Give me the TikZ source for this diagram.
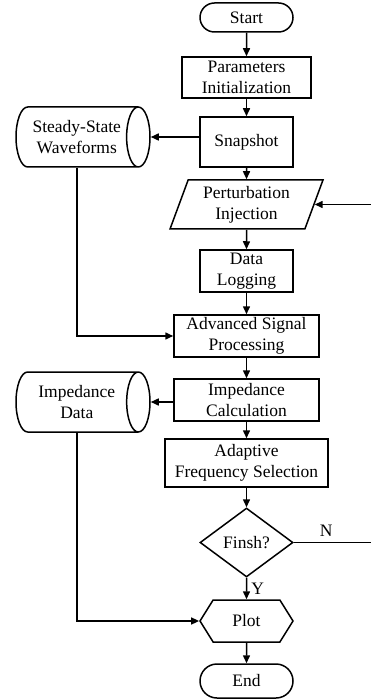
\documentclass[tikz,border=0pt]{standalone}
\usepackage{fontspec}
\setmainfont{Liberation Serif}
\usetikzlibrary{arrows.meta,shapes.geometric,shapes.misc,shapes.symbols}
\tikzset{
  base/.style={draw, line width=1.5pt, inner sep=0pt, align=center, font=\fontsize{17.5}{21}\selectfont},
  proc/.style={base, rectangle},
  term/.style={base, rounded rectangle, minimum width=93},
  store/.style={base, cylinder, anchor=shape center, aspect=0.7, minimum width=60, minimum height=134},
  io/.style={base, trapezium, trapezium left angle=70, trapezium right angle=110, trapezium stretches=true, minimum width=153, minimum height=49},
  decide/.style={base, diamond, minimum width=93, minimum height=69},
  disp/.style={base, signal, signal to=west and east, signal pointer angle=116, minimum width=93, minimum height=42},
  flow/.style={line width=1.5pt, -{Triangle[length=8pt,width=7pt]}},
  tag/.style={inner sep=1pt, font=\fontsize{17.5}{21}\selectfont},
}
\begin{document}
\begin{tikzpicture}[x=1pt, y=-1pt]
  \useasboundingbox (0,0) rectangle (371,700);
  \node[term, minimum height=29] (start) at (246.5,17.5) {Start};
  \foreach \nm/\yy/\ww/\hh/\txt in {params/77.5/129/41/{Parameters\\Initialization},snap/142/93/50/Snapshot,log/271/93/42/{Data\\Logging},asp/336/145/42/{Advanced Signal\\Processing},calc/400/145/42/{Impedance\\Calculation},afs/463/163/48/{Adaptive\\Frequency Selection}}{%
    \node[proc, minimum width=\ww, minimum height=\hh] (\nm) at (246.5,\yy) {\txt};
  }
  \node[io] (pert) at (246.5,204.5) {Perturbation\\Injection};
  \node[store] (steady) at (83,137) {Steady-State\\Waveforms};
  \node[store] (impdata) at (83,402) {Impedance\\Data};
  \node[decide] (finish) at (246.5,542.5) {Finsh?};
  \node[disp] (plot) at (246.5,621) {Plot};
  \node[term, minimum height=34] (endnode) at (246.5,681) {End};
  \coordinate (loop) at (373,0);

  \foreach \a/\b in {start/params,params/snap,snap/pert,pert/log,log/asp,asp/calc,calc/afs,afs/finish,plot/endnode}{%
    \draw[flow] (\a) -- (\b);
  }
  \draw[flow] (finish) -- node[tag, right=3pt] {Y} (plot);
  \draw[flow] (steady.east -| snap.west) -- (steady.east);
  \draw[flow] (steady.south) |- (asp.west);
  \draw[flow] (impdata.east -| calc.west) -- (impdata.east);
  \draw[flow] (impdata.south) |- (plot.west);
  \draw[flow] (finish.east) -- node[tag, above=4pt, pos=0.41] {N} (finish.east -| loop) |- (pert.east);
\end{tikzpicture}
\end{document}
